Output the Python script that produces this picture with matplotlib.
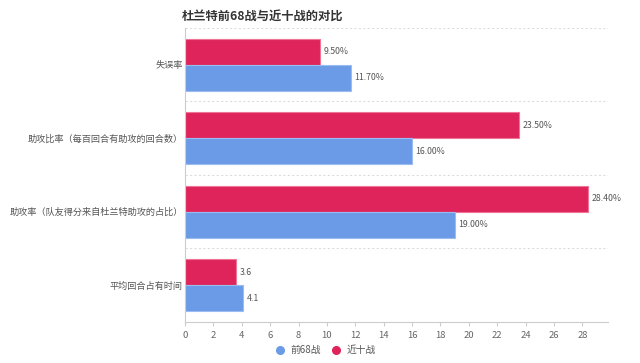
import matplotlib.pyplot as plt
import numpy as np

plt.rcParams['font.family'] = ['Noto Sans CJK SC', 'DejaVu Sans']

categories = ['失误率', '助攻比率（每百回合有助攻的回合数）', '助攻率（队友得分来自杜兰特助攻的占比）', '平均回合占有时间']
early = [11.7, 16.0, 19.0, 4.1]
recent = [9.5, 23.5, 28.4, 3.6]
early_labels = ['11.70%', '16.00%', '19.00%', '4.1']
recent_labels = ['9.50%', '23.50%', '28.40%', '3.6']
series_names = ['前68战', '近十战']

blue = '#6B9BE6'
red = '#DE245B'

fig = plt.figure(figsize=(6.4, 3.63), dpi=100)
ax = fig.add_axes([0.289, 0.113, 0.661, 0.81])

y = np.arange(len(categories))
h = 0.355
ax.barh(y - h / 2, recent, height=h, color=red, edgecolor='#EE7595', linewidth=0.8)
ax.barh(y + h / 2, early, height=h, color=blue, edgecolor='#9BBCF0', linewidth=0.8)

for yi, v, lab in zip(y, recent, recent_labels):
    ax.text(v + 0.25, yi - h / 2, lab, va='center', ha='left', fontsize=6.3, color='#555555')
for yi, v, lab in zip(y, early, early_labels):
    ax.text(v + 0.25, yi + h / 2, lab, va='center', ha='left', fontsize=6.3, color='#555555')

ax.set_ylim(len(categories) - 0.5, -0.5)
ax.set_xlim(0, 29.8)
ax.set_xticks(np.arange(0, 29, 2))
ax.set_yticks(y)
ax.set_yticklabels(categories, fontsize=6.6, color='#555555')

# dotted separators between categories
for b in np.arange(-0.5, len(categories) - 0.5, 1):
    ax.axhline(b, color='#DDDDDD', linestyle=(0, (2, 2)), linewidth=0.8, zorder=0)

for s in ['top', 'right']:
    ax.spines[s].set_visible(False)
for s in ['left', 'bottom']:
    ax.spines[s].set_color('#CCCCCC')
ax.tick_params(axis='x', colors='#CCCCCC', labelcolor='#666666', labelsize=6.8, length=3)
ax.tick_params(axis='y', length=0, pad=1.5)

fig.text(0.41, 0.955, '杜兰特前68战与近十战的对比', ha='center', va='center',
         fontsize=8.8, fontweight='bold', color='#333333')

# legend
fig.legend(handles=[plt.Line2D([], [], marker='o', linestyle='', color=blue, markersize=5.5),
                    plt.Line2D([], [], marker='o', linestyle='', color=red, markersize=5.5)],
           labels=series_names, loc='center', bbox_to_anchor=(0.505, 0.035), ncol=2,
           frameon=False, fontsize=7, handletextpad=0.05, columnspacing=0.6,
           labelcolor='#555555')

fig.savefig('out.png')
